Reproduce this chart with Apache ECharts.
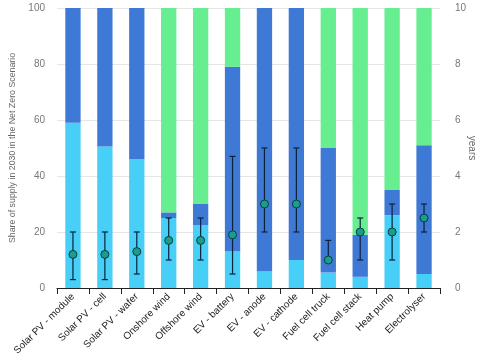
<!DOCTYPE html>
<html>
<head>
<meta charset="utf-8">
<script src="https://cdn.jsdelivr.net/npm/echarts@6/dist/echarts.min.js"></script>
<style>
  html, body { margin: 0; padding: 0; background: #fff; }
  #chart { width: 500px; height: 353px; }
</style>
</head>
<body>
<div id="chart"></div>
<script>
// categories and values
var categories = ['Solar PV - module', 'Solar PV - cell', 'Solar PV - wafer', 'Onshore wind',
    'Offshore wind', 'EV - battery', 'EV - anode', 'EV - cathode', 'Fuel cell truck',
    'Fuel cell stack', 'Heat pump', 'Electrolyser'];
var shareLight = [59, 50.5, 46, 25, 22.5, 13, 6, 10, 5.5, 4, 26, 5];
var shareDark = [41, 49.5, 54, 2, 7.5, 66, 94, 90, 44.5, 15, 9, 46];
var shareGreen = [0, 0, 0, 73, 70, 21, 0, 0, 50, 81, 65, 49];
// years (right axis): central value, low, high
var yearsMid = [1.2, 1.2, 1.3, 1.7, 1.7, 1.9, 3, 3, 1, 2, 2, 2.5];
var yearsLow = [0.3, 0.3, 0.5, 1, 1, 0.5, 2, 2, 1, 1, 1, 2];
var yearsHigh = [2, 2, 2, 2.5, 2.5, 4.7, 5, 5, 1.7, 2.5, 3, 3];

var errData = [];
for (var i = 0; i < categories.length; i++) {
    errData.push([i, yearsLow[i], yearsHigh[i]]);
}

var myChart = echarts.init(document.getElementById('chart'));

function barSeries(name, data, color) {
    return {
        name: name,
        type: 'bar',
        stack: 'share',
        barWidth: '48%',
        data: data,
        itemStyle: { color: color },
        emphasis: { disabled: true }
    };
}

var option = {
    animation: false,
    textStyle: { fontFamily: 'Liberation Sans, Arial, sans-serif' },
    grid: { left: 57, right: 60, top: 8, bottom: 65, outerBoundsMode: 'none' },
    xAxis: {
        type: 'category',
        data: categories,
        axisLine: { lineStyle: { color: '#222', width: 1 } },
        axisTick: { show: true, length: 6, lineStyle: { color: '#222' } },
        axisLabel: { rotate: 45, color: '#222', fontSize: 10, interval: 0, margin: 7 }
    },
    yAxis: [
        {
            type: 'value',
            min: 0, max: 100, interval: 20,
            name: 'Share of supply in 2030 in the Net Zero Scenario',
            nameLocation: 'middle',
            nameGap: 40,
            nameMoveOverlap: false,
            nameTextStyle: { color: '#666', fontSize: 8.8 },
            axisLine: { show: false },
            axisTick: { show: false },
            axisLabel: { color: '#777', fontSize: 10, margin: 12 },
            splitLine: { lineStyle: { color: '#e6e6e6' } }
        },
        {
            type: 'value',
            min: 0, max: 10, interval: 2,
            position: 'right',
            name: 'years',
            nameLocation: 'middle',
            nameRotate: -90,
            nameGap: 27,
            nameMoveOverlap: false,
            nameTextStyle: { color: '#666', fontSize: 10 },
            axisLine: { show: false },
            axisTick: { show: false },
            axisLabel: { color: '#777', fontSize: 10, margin: 15 },
            splitLine: { show: false }
        }
    ],
    series: [
        barSeries('light', shareLight, '#48cff7'),
        barSeries('dark', shareDark, '#3f79d6'),
        barSeries('green', shareGreen, '#66ee90'),
        {
            name: 'range',
            type: 'custom',
            yAxisIndex: 1,
            data: errData,
            z: 10,
            renderItem: function (params, api) {
                var lo = api.coord([api.value(0), api.value(1)]);
                var hi = api.coord([api.value(0), api.value(2)]);
                var cap = 3;
                var style = { stroke: '#0b2239', lineWidth: 1.2 };
                return {
                    type: 'group',
                    children: [
                        { type: 'line', shape: { x1: lo[0], y1: lo[1], x2: hi[0], y2: hi[1] }, style: style },
                        { type: 'line', shape: { x1: hi[0] - cap, y1: hi[1], x2: hi[0] + cap, y2: hi[1] }, style: style },
                        { type: 'line', shape: { x1: lo[0] - cap, y1: lo[1], x2: lo[0] + cap, y2: lo[1] }, style: style }
                    ]
                };
            }
        },
        {
            name: 'years',
            type: 'scatter',
            yAxisIndex: 1,
            data: yearsMid,
            symbolSize: 8,
            z: 11,
            itemStyle: { color: '#1a9e8c', borderColor: '#0c3b3f', borderWidth: 1, opacity: 1 }
        }
    ]
};

myChart.setOption(option);
</script>
</body>
</html>
